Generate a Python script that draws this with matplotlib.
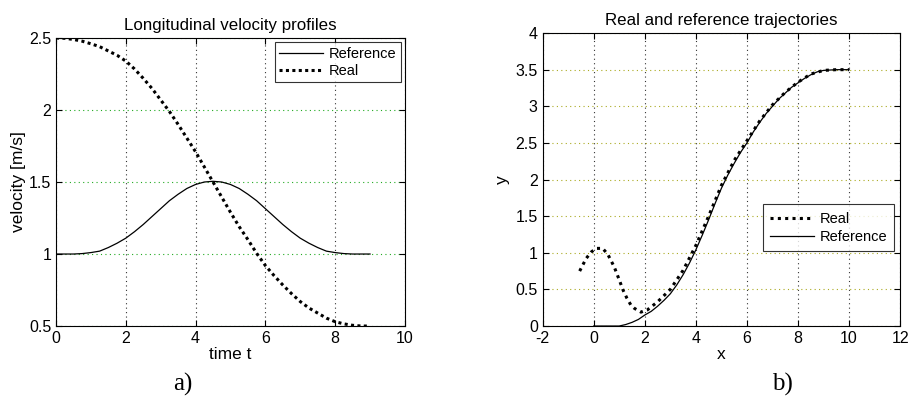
import numpy as np
import matplotlib
matplotlib.use("Agg")
import matplotlib.pyplot as plt

plt.rcParams['font.family'] = ['Liberation Sans', 'DejaVu Sans']
plt.rcParams['axes.unicode_minus'] = False

# velocity profiles (panel a)
t_vals = [0, 0.25, 0.5, 0.75, 1, 1.25, 1.5, 1.75, 2, 2.25, 2.5, 2.75, 3, 3.25, 3.5, 3.75,
          4, 4.25, 4.5, 4.75, 5, 5.25, 5.5, 5.75, 6, 6.25, 6.5, 6.75, 7, 7.25, 7.5, 7.75,
          8, 8.25, 8.5, 8.75, 9]
v_ref = [1.0, 1.0, 1.0, 1.003, 1.01, 1.02, 1.045, 1.075, 1.11, 1.155, 1.205, 1.26,
         1.315, 1.37, 1.415, 1.455, 1.483, 1.5, 1.505, 1.5, 1.483, 1.455, 1.415, 1.37,
         1.315, 1.26, 1.205, 1.155, 1.11, 1.075, 1.045, 1.02, 1.01, 1.003, 1.0, 1.0, 1.0]
v_real = [2.5, 2.498, 2.49, 2.478, 2.46, 2.44, 2.41, 2.38, 2.34, 2.285, 2.22, 2.15,
          2.07, 1.99, 1.90, 1.805, 1.71, 1.605, 1.50, 1.395, 1.29, 1.19, 1.10, 1.005,
          0.92, 0.85, 0.785, 0.725, 0.67, 0.625, 0.59, 0.555, 0.53, 0.515, 0.505, 0.50, 0.50]

# trajectories (panel b)
x_ref = [0, 0.5, 1, 1.25, 1.5, 1.75, 2, 2.25, 2.5, 2.75, 3, 3.25, 3.5, 3.75, 4, 4.25,
         4.5, 4.75, 5, 5.25, 5.5, 5.75, 6, 6.25, 6.5, 6.75, 7, 7.25, 7.5, 7.75, 8,
         8.25, 8.5, 8.75, 9, 9.5, 10]
y_ref = [0, 0, 0.0, 0.02, 0.05, 0.09, 0.15, 0.2, 0.27, 0.35, 0.44, 0.56, 0.70, 0.86,
         1.04, 1.24, 1.45, 1.67, 1.88, 2.06, 2.22, 2.37, 2.50, 2.65, 2.78, 2.90, 3.00,
         3.10, 3.18, 3.26, 3.32, 3.38, 3.43, 3.47, 3.49, 3.50, 3.50]
x_real = [-0.55, -0.3, -0.1, 0.1, 0.35, 0.55, 0.8, 1.0, 1.15, 1.3, 1.45, 1.6, 1.85, 2.1,
          2.5, 3, 3.5, 4, 4.5, 5, 5.5, 6, 6.5, 7, 7.5, 8, 8.5, 9, 9.5, 10]
y_real = [0.75, 0.92, 1.01, 1.06, 1.06, 0.98, 0.81, 0.63, 0.49, 0.38, 0.29, 0.24, 0.19,
          0.22, 0.33, 0.50, 0.76, 1.10, 1.50, 1.92, 2.26, 2.53, 2.80, 3.02, 3.19, 3.33,
          3.44, 3.49, 3.50, 3.50]


def style_axes(ax, hcolor):
    ax.tick_params(direction='in', top=True, right=True, labelsize=11.5, length=4)
    for lx in ax.get_xticks():
        ax.axvline(lx, color='#333333', lw=0.8, ls=(0, (1, 3)), zorder=0)
    for ly in ax.get_yticks():
        ax.axhline(ly, color=hcolor, lw=0.8, ls=(0, (1, 3)), zorder=0)
    for s in ax.spines.values():
        s.set_linewidth(0.8)


fig = plt.figure(figsize=(9.12, 4.03), dpi=100)

ax1 = fig.add_axes([0.0614, 0.191, 0.3826, 0.7147])
ax1.plot(t_vals, v_ref, color='black', lw=0.9, label='Reference')
ax1.plot(t_vals, v_real, color='black', lw=2.2, ls=(0, (1, 1.1)), label='Real')
ax1.set_xlim(0, 10)
ax1.set_ylim(0.5, 2.5)
ax1.set_xticks([0, 2, 4, 6, 8, 10])
ax1.set_yticks([0.5, 1, 1.5, 2, 2.5])
ax1.set_yticklabels(['0.5', '1', '1.5', '2', '2.5'])
style_axes(ax1, '#22aa22')
ax1.set_title('Longitudinal velocity profiles', fontsize=12.2, pad=6)
ax1.set_xlabel('time t', fontsize=12.5, labelpad=1)
ax1.set_ylabel('velocity [m/s]', fontsize=12.5, labelpad=2)
leg1 = ax1.legend(loc='upper right', fontsize=10.5, fancybox=False, edgecolor='black',
                  handlelength=3.0, borderpad=0.3, labelspacing=0.2, handletextpad=0.4,
                  borderaxespad=0.3)
leg1.get_frame().set_linewidth(0.8)

ax2 = fig.add_axes([0.595, 0.191, 0.392, 0.727])
ax2.plot(x_real, y_real, color='black', lw=2.2, ls=(0, (1, 1.4)), label='Real')
ax2.plot(x_ref, y_ref, color='black', lw=0.9, label='Reference')
ax2.set_xlim(-2, 12)
ax2.set_ylim(0, 4)
ax2.set_xticks([-2, 0, 2, 4, 6, 8, 10, 12])
ax2.set_yticks([0, 0.5, 1, 1.5, 2, 2.5, 3, 3.5, 4])
ax2.set_yticklabels(['0', '0.5', '1', '1.5', '2', '2.5', '3', '3.5', '4'])
style_axes(ax2, '#aaaa22')
ax2.set_title('Real and reference trajectories', fontsize=12.2, pad=6)
ax2.set_xlabel('x', fontsize=12.5, labelpad=1)
ax2.set_ylabel('y', fontsize=12.5, labelpad=4)
leg2 = ax2.legend(loc='lower left', bbox_to_anchor=(0.595, 0.23), fontsize=10.5,
                  fancybox=False, edgecolor='black', handlelength=3.0, borderpad=0.5,
                  labelspacing=0.3, handletextpad=0.4)
leg2.get_frame().set_linewidth(0.8)

fig.text(0.2, 0.03, 'a)', fontsize=18, family='Liberation Serif', ha='center')
fig.text(0.858, 0.03, 'b)', fontsize=18, family='Liberation Serif', ha='center')

fig.savefig('out.png', dpi=100)
